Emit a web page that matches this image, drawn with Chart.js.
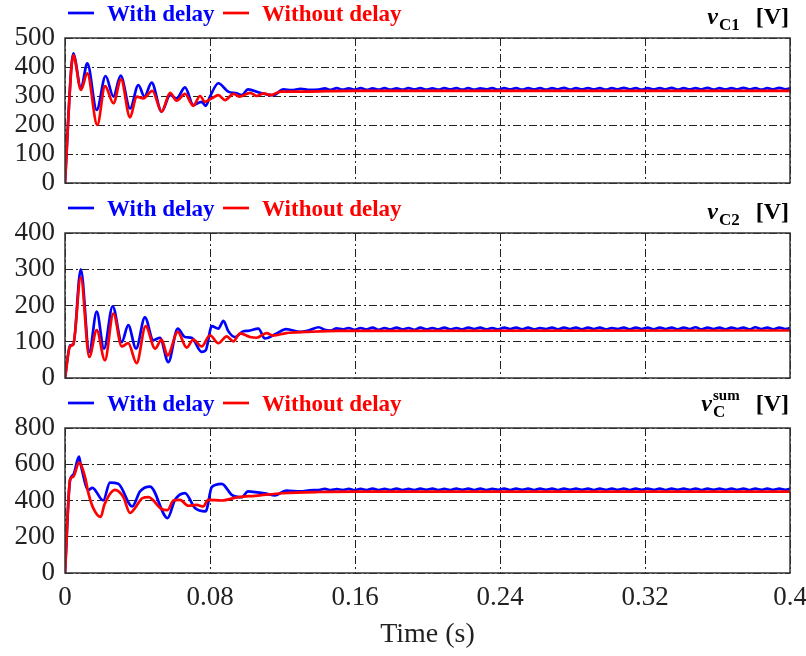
<!DOCTYPE html>
<html><head><meta charset="utf-8">
<script src="https://cdn.jsdelivr.net/npm/chart.js@4.4.1/dist/chart.umd.min.js"></script>
<style>
html,body{margin:0;padding:0;background:#fff;}
#wrap{position:relative;width:806px;height:656px;overflow:hidden;}
canvas{position:absolute;left:0;}
</style></head><body>
<div id="wrap">
<canvas id="c1" width="806" height="195" style="top:0px"></canvas>
<canvas id="c2" width="806" height="195" style="top:195px"></canvas>
<canvas id="c3" width="806" height="266" style="top:390px"></canvas>
</div>
<script>
// ---------- DATA ----------
const seriesNames = ['With delay', 'Without delay'];
const xTicks = [0, 0.08, 0.16, 0.24, 0.32, 0.4];
const xTickLabels = ['0', '0.08', '0.16', '0.24', '0.32', '0.4'];
const yTicks1 = [0, 100, 200, 300, 400, 500];
const yTicks2 = [0, 100, 200, 300, 400];
const yTicks3 = [0, 200, 400, 600, 800];
const tailStart = 0.14, tailStep = 0.0033;

// v_C1 transient [time s, volts]
const blue1Head = [[0,0],[0.0035,400],[0.0046,447],[0.0055,430],[0.0088,326],[0.0123,413],[0.0175,252],[0.0224,369],[0.0267,298],[0.0307,370],[0.0359,257],[0.0405,338],[0.0438,298],[0.0478,346],[0.0533,246],[0.058,303],[0.0616,292],[0.0662,330],[0.0708,269],[0.0754,280],[0.0776,266],[0.08,298],[0.0846,344],[0.090,315],[0.0947,309],[0.0975,303],[0.101,323],[0.1076,311],[0.115,303],[0.1205,323],[0.125,320],[0.13,325],[0.135,321]];
const blue1Tail = [322,326,321,327,322,326,322,327,321,326,322,327,322,326,322,327,323,327,322,326,322,327,323,327,322,327,322,326,323,327,322,327,323,327,322,327,323,327,322,327,323,328,322,327,323,327,323,327,322,327,323,328,323,327,322,327,323,327,323,328,322,327,323,327,323,328,322,327,323,327,323,328,323,327,322,327,323,328,323,327];
const red1 = [[0,0],[0.0035,395],[0.0046,441],[0.0055,425],[0.0088,321],[0.0123,378],[0.0178,200],[0.0221,334],[0.0267,275],[0.0309,357],[0.0359,226],[0.0395,298],[0.0432,292],[0.0482,318],[0.0533,246],[0.058,311],[0.0616,284],[0.0662,307],[0.0708,266],[0.0745,300],[0.0772,280],[0.081,292],[0.0846,303],[0.0883,286],[0.0929,307],[0.0965,298],[0.1021,311],[0.1059,300],[0.1096,309],[0.1134,303],[0.119,315],[0.131,315],[0.159,318],[0.4,318]];

// v_C2
const blue2Head = [[0,0],[0.0028,90],[0.0046,93],[0.0087,300],[0.0134,72],[0.0175,183],[0.0215,81],[0.0263,198],[0.0313,99],[0.0349,146],[0.0392,81],[0.0441,167],[0.0487,104],[0.0524,111],[0.057,44],[0.0622,136],[0.0662,113],[0.0699,111],[0.0754,72],[0.0776,76],[0.081,143],[0.0846,136],[0.0874,158],[0.090,130],[0.0938,113],[0.0984,129],[0.101,130],[0.1067,136],[0.1103,109],[0.1168,123],[0.122,135],[0.1297,127],[0.135,132]];
const blue2Tail = [140,133,131,137,134,138,133,138,134,139,133,138,134,139,134,138,133,139,134,138,134,139,134,138,134,139,135,139,134,138,134,139,135,139,134,139,134,138,135,139,134,139,135,139,134,139,135,139,134,138,135,139,134,139,135,139,134,139,135,139,134,139,135,140,134,139,135,139,134,139,135,139,134,140,135,139,134,139,135,139];
const red2 = [[0,0],[0.0028,87],[0.0046,93],[0.0087,278],[0.0134,58],[0.0175,132],[0.022,49],[0.0267,178],[0.0313,87],[0.0349,96],[0.0395,41],[0.0445,143],[0.0497,81],[0.0533,106],[0.0566,62],[0.0622,127],[0.0671,84],[0.0708,106],[0.0754,87],[0.08,118],[0.0846,96],[0.0892,115],[0.0929,101],[0.0966,123],[0.1021,113],[0.1057,111],[0.1112,124],[0.1148,117],[0.122,124],[0.133,127],[0.151,130],[0.4,131]];

// v_C sum
const blue3Head = [[0,0],[0.0028,514],[0.0046,542],[0.0077,642],[0.0085,606],[0.0129,459],[0.0151,470],[0.0211,400],[0.0248,499],[0.0294,493],[0.0371,367],[0.0414,450],[0.0469,477],[0.0566,303],[0.0607,404],[0.0662,441],[0.0717,358],[0.0776,340],[0.081,474],[0.0865,492],[0.092,431],[0.0975,418],[0.101,450],[0.105,446],[0.11,440],[0.116,428],[0.122,455],[0.13,450],[0.135,456]];
const blue3Tail = [458,464,457,463,458,464,457,464,458,465,458,464,458,465,458,464,458,465,459,465,458,464,458,465,459,465,458,465,458,464,459,465,458,465,459,465,458,465,459,465,458,465,459,465,459,465,458,465,459,466,459,465,458,465,459,465,459,466,458,465,459,465,459,466,458,465,459,465,459,466,459,465,458,465,459,466,459,465,459,465];
const red3 = [[0,0],[0.0028,514],[0.0046,532],[0.0077,609],[0.011,532],[0.0129,441],[0.0156,358],[0.0197,309],[0.0217,376],[0.0276,459],[0.0322,419],[0.0359,331],[0.0386,358],[0.0427,413],[0.046,419],[0.0533,353],[0.0566,347],[0.0598,400],[0.0634,404],[0.068,371],[0.0726,376],[0.0763,367],[0.079,404],[0.0865,400],[0.0957,419],[0.105,426],[0.12,440],[0.14,447],[0.16,449],[0.4,449]];

// ---------- BUILD ----------
function pts(pairs){ return pairs.map(p => ({x:p[0], y:p[1]})); }
function withTail(head, tail){
  return pts(head).concat(tail.map((v,i) => ({x: tailStart + i*tailStep, y: v})));
}
const SERIF = '"Liberation Serif", "Times New Roman", serif';
const BLUE = '#0000ff', RED = '#ff0000';
const GRID = '#222';

const deco = {
  id: 'deco',
  afterDatasetsDraw(chart){
    const a = chart.chartArea, ctx = chart.ctx;
    ctx.save();
    ctx.strokeStyle = '#333';
    ctx.lineWidth = 1.5;
    ctx.setLineDash([]);
    ctx.strokeRect(a.left, a.top, a.right - a.left, a.bottom - a.top);
    ctx.restore();
  },
  afterDraw(chart, args, o){
    const ctx = chart.ctx;
    ctx.save();
    ctx.textBaseline = 'alphabetic';
    // legend
    const ly = 13;
    ctx.lineWidth = 2.7;
    ctx.strokeStyle = BLUE; ctx.beginPath(); ctx.moveTo(68, ly); ctx.lineTo(94, ly); ctx.stroke();
    ctx.strokeStyle = RED; ctx.beginPath(); ctx.moveTo(223, ly); ctx.lineTo(249, ly); ctx.stroke();
    ctx.font = 'bold 23px ' + SERIF;
    ctx.fillStyle = BLUE; ctx.fillText(seriesNames[0], 107, 21);
    ctx.fillStyle = RED; ctx.fillText(seriesNames[1], 262, 21);
    // panel label
    const R = 789, base = o.base;
    ctx.fillStyle = '#000';
    ctx.font = 'bold 24px ' + SERIF;
    const wV = ctx.measureText('[V]').width;
    ctx.fillText('[V]', R - wV, base);
    let x = R - wV - 16;
    ctx.font = 'bold 17px ' + SERIF;
    const wSub = ctx.measureText(o.sub).width;
    let wSup = 0;
    if (o.sup) { ctx.font = 'bold 15px ' + SERIF; wSup = ctx.measureText(o.sup).width; }
    const w = Math.max(wSub, wSup);
    const xs = x - w;
    ctx.font = 'bold 17px ' + SERIF;
    ctx.fillText(o.sub, xs, base + 6);
    if (o.sup) { ctx.font = 'bold 15px ' + SERIF; ctx.fillText(o.sup, xs, base - 11); }
    ctx.font = 'italic bold 24px ' + SERIF;
    const wv = ctx.measureText('v').width;
    ctx.fillText('v', xs - wv - 1, base);
    ctx.restore();
  }
};

function makeChart(id, blueData, redData, yMax, yTicks, label, bottom){
  const gridOpts = { color: GRID, lineWidth: 1, drawTicks: false };
  const borderOpts = { display: false, dash: [8, 3, 2, 3] };
  return new Chart(document.getElementById(id), {
    type: 'line',
    data: {
      datasets: [
        { label: seriesNames[0], data: blueData, borderColor: BLUE, backgroundColor: BLUE, borderWidth: 2.7, pointRadius: 0, cubicInterpolationMode: 'monotone', order: 2, fill: false },
        { label: seriesNames[1], data: redData, borderColor: RED, backgroundColor: RED, borderWidth: 2.7, pointRadius: 0, cubicInterpolationMode: 'monotone', order: 1, fill: false }
      ]
    },
    options: {
      responsive: false,
      animation: false,
      events: [],
      layout: { padding: { top: 38, right: 16, left: 0, bottom: 0 } },
      plugins: { legend: { display: false }, tooltip: { enabled: false }, deco: label },
      scales: {
        x: {
          type: 'linear', min: 0, max: 0.4,
          afterBuildTicks: s => { s.ticks = xTicks.map(v => ({ value: v })); },
          afterFit: s => { s.height = bottom ? 83 : 12; s.paddingLeft = 0; s.paddingRight = 0; },
          grid: gridOpts, border: borderOpts,
          ticks: {
            display: bottom, autoSkip: false, maxRotation: 0, padding: 9,
            color: '#222', font: { family: SERIF, size: 27 },
            callback: (v, i) => xTickLabels[i]
          },
          title: { display: bottom, text: 'Time (s)', color: '#222', font: { family: SERIF, size: 28 }, padding: { top: 0, bottom: 5 } }
        },
        y: {
          type: 'linear', min: 0, max: yMax,
          afterBuildTicks: s => { s.ticks = yTicks.map(v => ({ value: v })); },
          afterFit: s => { s.width = 65; s.paddingTop = 0; s.paddingBottom = 0; },
          grid: gridOpts, border: borderOpts,
          ticks: { autoSkip: false, padding: 10, color: '#222', font: { family: SERIF, size: 27 }, callback: (v) => String(v) }
        }
      }
    },
    plugins: [deco]
  });
}

makeChart('c1', withTail(blue1Head, blue1Tail), pts(red1), 500, yTicks1, { base: 24, sub: 'C1' }, false);
makeChart('c2', withTail(blue2Head, blue2Tail), pts(red2), 400, yTicks2, { base: 24, sub: 'C2' }, false);
makeChart('c3', withTail(blue3Head, blue3Tail), pts(red3), 800, yTicks3, { base: 21, sub: 'C', sup: 'sum' }, true);
</script>
</body></html>
